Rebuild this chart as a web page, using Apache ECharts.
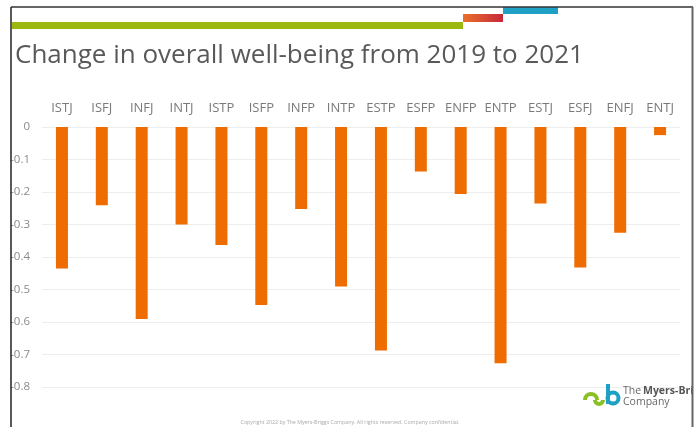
<!DOCTYPE html>
<html>
<head>
<meta charset="utf-8">
<script src="https://cdn.jsdelivr.net/npm/echarts@6/dist/echarts.min.js"></script>
<style>
html,body{margin:0;padding:0;background:#fff;}
#chart{width:700px;height:427px;}
</style>
</head>
<body>
<div id="chart"></div>
<script>
const categories = ['ISTJ','ISFJ','INFJ','INTJ','ISTP','ISFP','INFP','INTP','ESTP','ESFP','ENFP','ENTP','ESTJ','ESFJ','ENFJ','ENTJ'];
const values = [-0.435,-0.241,-0.591,-0.300,-0.363,-0.548,-0.252,-0.491,-0.688,-0.137,-0.206,-0.727,-0.235,-0.432,-0.325,-0.025];
const yTicks = [0,-0.1,-0.2,-0.3,-0.4,-0.5,-0.6,-0.7,-0.8];

const chart = echarts.init(document.getElementById('chart'));
chart.setOption({
  animation:false,
  backgroundColor:'#fff',
  title:{
    text:'Change in overall well-being from 2019 to 2021',
    left:10, top:38,
    textStyle:{fontFamily:'Open Sans', fontSize:26, fontWeight:'normal', color:'#595959'}
  },
  grid:{left:42, right:20, top:127, bottom:40, containLabel:false},
  xAxis:{
    type:'category', data:categories, position:'top',
    axisLine:{show:false}, axisTick:{show:false},
    axisLabel:{fontFamily:'Open Sans', fontSize:13, color:'#7a7a7a', margin:12, interval:0}
  },
  yAxis:{
    type:'value', min:-0.8, max:0, interval:0.1,
    axisLine:{show:false}, axisTick:{show:false},
    axisLabel:{fontFamily:'Open Sans', fontSize:11.5, color:'#8a8a8a', margin:12,
      formatter:function(v){ const t = yTicks.find(x=>Math.abs(x-v)<1e-6); return t===undefined?'':String(t); }},
    splitLine:{lineStyle:{color:'#eeeeee', width:1}}
  },
  series:[{
    type:'bar', data:values, barWidth:12,
    itemStyle:{color:'#ee6c00'}
  }],
  graphic:[
    {type:'rect', shape:{x:12,y:22,width:451,height:7}, style:{fill:'#9ab80e'}, z:10},
    {type:'rect', shape:{x:463,y:14,width:40,height:8}, style:{fill:new echarts.graphic.LinearGradient(0,0,1,0,[{offset:0,color:'#e9702a'},{offset:1,color:'#c8283a'}])}, z:10},
    {type:'rect', shape:{x:503,y:7,width:55,height:7}, style:{fill:'#1ea1c4'}, z:10},
    {type:'text', left:623, top:386, style:{text:'The ', fontFamily:'Open Sans', fontSize:10.5, fill:'#6a6a6a'}, z:10},
    {type:'text', left:643, top:386, style:{text:'Myers-Briggs', fontFamily:'Open Sans', fontSize:10.5, fontWeight:'bold', fill:'#555'}, z:10},
    {type:'text', left:623, top:397, style:{text:'Company', fontFamily:'Open Sans', fontSize:10.5, fill:'#6a6a6a'}, z:10},
    {type:'arc', shape:{cx:591,cy:400,r:6,startAngle:Math.PI,endAngle:Math.PI*2}, style:{stroke:'#8cbf26', lineWidth:4, fill:null}, z:10},
    {type:'arc', shape:{cx:599,cy:400,r:4,startAngle:Math.PI*0,endAngle:Math.PI}, style:{stroke:'#8cbf26', lineWidth:4, fill:null}, z:10},
    {type:'line', shape:{x1:608,y1:384,x2:608,y2:404}, style:{stroke:'#1ea1c4', lineWidth:4}, z:10},
    {type:'arc', shape:{cx:613,cy:398,r:5.5,startAngle:0,endAngle:Math.PI*2}, style:{stroke:'#1ea1c4', lineWidth:4, fill:null}, z:10},
    {type:'rect', shape:{x:693,y:0,width:10,height:427}, style:{fill:'#fff'}, z:20},
    {type:'text', left:'center', top:420, style:{text:'Copyright 2022 by The Myers-Briggs Company. All rights reserved. Company confidential.', fontFamily:'Open Sans', fontSize:5.3, fill:'#aaaaaa'}, z:10},
    {type:'line', shape:{x1:11,y1:7,x2:693,y2:7}, style:{stroke:'#333', lineWidth:1.5}, z:30},
    {type:'line', shape:{x1:11,y1:7,x2:11,y2:427}, style:{stroke:'#222', lineWidth:1.5}, z:30},
    {type:'line', shape:{x1:692.5,y1:7,x2:692.5,y2:427}, style:{stroke:'#666', lineWidth:2}, z:30}
  ]
});
</script>
</body>
</html>
